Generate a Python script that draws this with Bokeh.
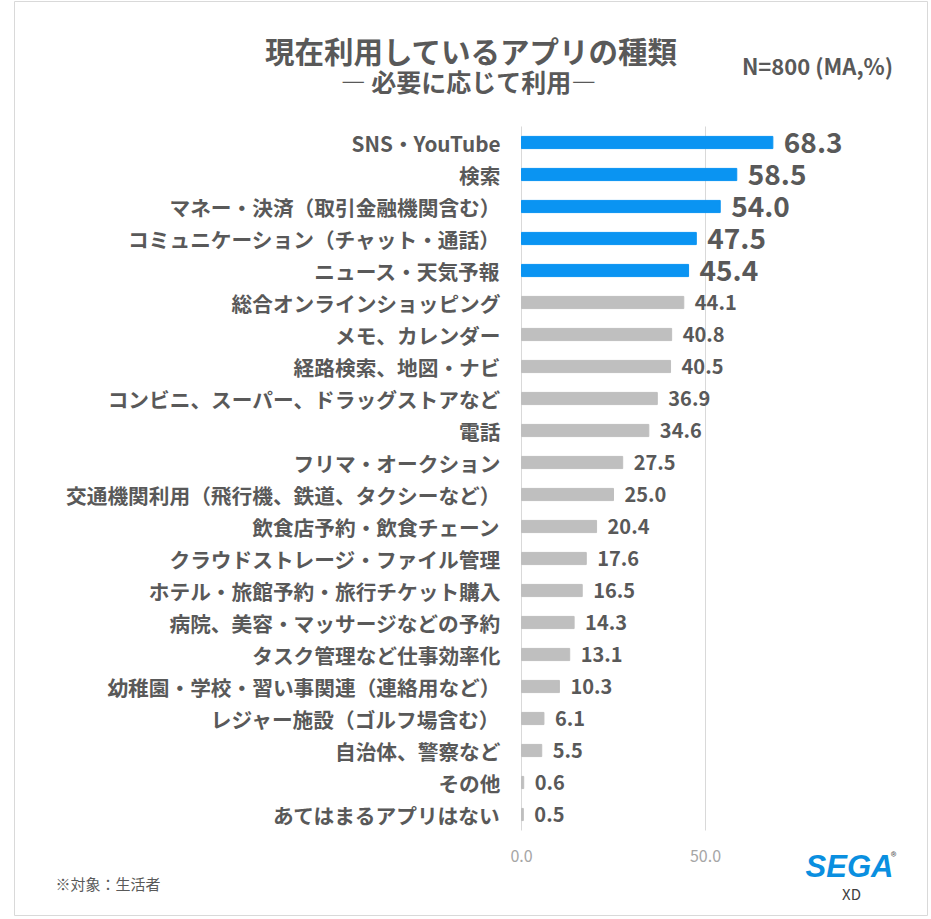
from bokeh.plotting import figure
from bokeh.models import ColumnDataSource, Range1d
from bokeh.core.properties import value
from bokeh.embed import file_html
from bokeh.resources import INLINE

categories = ["SNS・YouTube", "検索", "マネー・決済（取引金融機関含む）",
              "コミュニケーション（チャット・通話）", "ニュース・天気予報",
              "総合オンラインショッピング", "メモ、カレンダー", "経路検索、地図・ナビ",
              "コンビニ、スーパー、ドラッグストアなど", "電話", "フリマ・オークション",
              "交通機関利用（飛行機、鉄道、タクシーなど）", "飲食店予約・飲食チェーン",
              "クラウドストレージ・ファイル管理", "ホテル・旅館予約・旅行チケット購入",
              "病院、美容・マッサージなどの予約", "タスク管理など仕事効率化",
              "幼稚園・学校・習い事関連（連絡用など）", "レジャー施設（ゴルフ場含む）",
              "自治体、警察など", "その他", "あてはまるアプリはない"]
values = [68.3, 58.5, 54.0, 47.5, 45.4, 44.1, 40.8, 40.5, 36.9, 34.6, 27.5, 25.0,
          20.4, 17.6, 16.5, 14.3, 13.1, 10.3, 6.1, 5.5, 0.6, 0.5]
highlight_top = 5
x_ticks = [0, 50]
tick_labels = ["0.0", "50.0"]

FONT = "Noto Sans CJK JP"
DARK = "#595959"
BLUE = "#0a94f2"
GREY = "#bfbfbf"

# ---- layout (pixels on the canvas) ----
W, H = 928, 916
X0_PX = 521          # pixel of value 0
PX_PER_UNIT = 3.68   # horizontal scale
ROW0_PX = 142        # centre of first row
ROW_PX = 32          # row pitch
n = len(categories)


def dx(px):
    return (px - X0_PX) / PX_PER_UNIT


def dy(py):
    return (n - 1) - (py - ROW0_PX) / ROW_PX


rows = [n - 1 - i for i in range(n)]
colors = [BLUE if i < highlight_top else GREY for i in range(n)]
labels = ["%.1f" % v for v in values]
big = [i < highlight_top for i in range(n)]


def pick(seq, flag):
    return [s for s, b in zip(seq, big) if b == flag]


src_all = ColumnDataSource(dict(row=rows, cat=categories, val=values, color=colors))
src_big = ColumnDataSource(dict(row=pick(rows, True), val=pick(values, True), label=pick(labels, True)))
src_small = ColumnDataSource(dict(row=pick(rows, False), val=pick(values, False), label=pick(labels, False)))

p = figure(width=W, height=H, x_range=Range1d(dx(0), dx(W)), y_range=Range1d(dy(H), dy(0)),
           output_backend="svg", toolbar_location=None,
           x_axis_location=None, y_axis_location=None,
           min_border=0, min_border_left=0, min_border_right=0,
           min_border_top=0, min_border_bottom=0)
p.outline_line_color = None
p.grid.visible = False
p.background_fill_color = "white"
p.border_fill_color = "white"

# frame around the chart
p.quad(left=dx(14), right=dx(927), top=dy(1), bottom=dy(915),
       fill_color=None, line_color="#d9d9d9", line_width=1)

# gridlines at the tick values, spanning the category block
p.segment(x0=x_ticks, x1=x_ticks, y0=[dy(ROW0_PX - ROW_PX / 2)] * len(x_ticks),
          y1=[dy(ROW0_PX + (n - 0.5) * ROW_PX)] * len(x_ticks),
          line_color="#d9d9d9", line_width=1)

# bars
p.hbar(y="row", right="val", left=0, height=0.38, color="color", source=src_all)

# category labels (y axis)
p.text(x=0, y="row", text="cat", source=src_all, x_offset=-21,
       text_font=value(FONT), text_font_style="bold", text_font_size="20.7px",
       text_color=DARK, text_baseline="middle", text_align="right")

# value labels
p.text(x="val", y="row", text="label", source=src_big, x_offset=11,
       text_font=value(FONT), text_font_style="bold", text_font_size="28px",
       text_color=DARK, text_baseline="middle", text_align="left")
p.text(x="val", y="row", text="label", source=src_small, x_offset=11,
       text_font=value(FONT), text_font_style="bold", text_font_size="20px",
       text_color=DARK, text_baseline="middle", text_align="left")

# x tick labels
p.text(x=x_ticks, y=[dy(855)] * len(x_ticks), text=tick_labels,
       text_font=value(FONT), text_font_size="16px", text_color="#a6a6a6",
       text_baseline="middle", text_align="center")


def lab(x, y, text, size, style="bold", color=DARK, align="center", font=FONT):
    p.text(x=[dx(x)], y=[dy(y)], text=[text], text_font=value(font),
           text_font_size=size, text_font_style=style, text_color=color,
           text_align=align, text_baseline="middle")


lab(471, 49, "現在利用しているアプリの種類", "29.5px")
lab(468, 80, "― 必要に応じて利用―", "25px")
lab(817, 64, "N=800 (MA,%)", "22px")
lab(55, 883, "※対象：生活者", "15px", style="normal", align="left")
lab(849, 866, "SEGA", "31px", style="bold italic", color="#0a8fe0", font="Liberation Sans")
lab(893, 855, "®", "12px", style="normal", color=DARK)
lab(851, 893, "XD", "15px", style="normal", color="#404040")

open("out.html", "w").write(file_html(p, INLINE))
